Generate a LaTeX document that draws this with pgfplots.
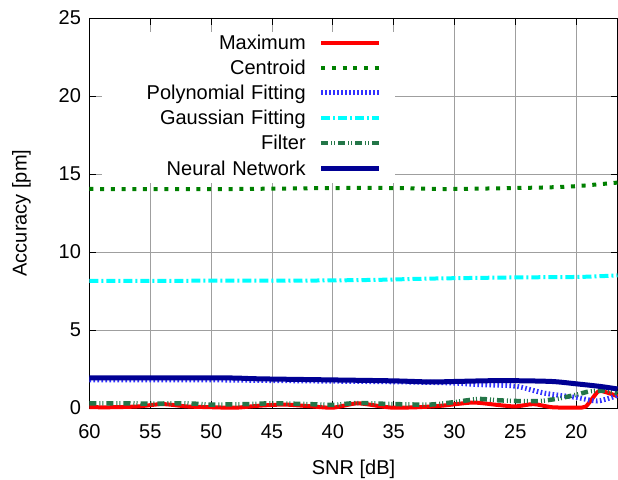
\documentclass[border=0pt]{standalone}
\usepackage{fontspec}
\setmainfont{Liberation Sans}
\usepackage{pgfplots}
\pgfplotsset{compat=1.18}

\definecolor{cmax}{RGB}{255,0,0}
\definecolor{ccen}{RGB}{0,128,0}
\definecolor{cpoly}{RGB}{50,50,255}
\definecolor{cgau}{RGB}{0,255,255}
\definecolor{cfil}{RGB}{36,118,72}
\definecolor{cnn}{RGB}{0,0,148}

\begin{document}
\begin{tikzpicture}
\begin{axis}[
    at={(0pt,0pt)}, anchor=south west,
    scale only axis, width=528pt, height=390pt,
    font=\fontsize{20}{24}\selectfont,
    x dir=reverse,
    xmin=16.6, xmax=60, ymin=0, ymax=25,
    xtick={20,25,...,60}, ytick={0,5,...,25},
    /pgf/number format/assume math mode=true,
    grid=major,
    major grid style={gray!75, line width=0.8pt},
    tick align=inside, xtick pos=both, ytick pos=both,
    major tick length=7pt,
    every tick/.style={black, line width=0.8pt},
    axis line style={line width=0.8pt},
    xticklabel style={yshift=-13pt},
    yticklabel style={xshift=-5pt},
    clip=false,
    xlabel={SNR [dB]},
    ylabel={Accuracy [pm]},
    xlabel style={at={(axis description cs:0.5,-0.158)}, anchor=center},
    ylabel style={at={(axis description cs:-0.129,0.5)}, anchor=center},
    legend plot pos=right,
    legend cell align=right,
    legend image code/.code={
        \path (0pt,0pt) (74pt,0pt);
        \draw[#1] (3pt,2pt) -- (61pt,2pt);
    },
    legend style={
        at={(axis description cs:0.0227,0.964)}, anchor=north west,
        draw=none, fill=white, inner sep=0pt,
        row sep=0pt, column sep=7pt,
        font=\fontsize{20}{24}\selectfont,
        nodes={text width=201pt, align=right, inner xsep=3pt, inner ysep=3.3pt,
               text height=14pt, text depth=4.5pt},
    },
]

% Maximum
\addplot[cmax, line width=4pt, smooth, tension=0.4] coordinates {
    (60,0.05) (58,0.05) (56,0.1) (54,0.25) (52,0.1) (50,0.05) (48,0.02)
    (46,0.15) (44,0.22) (42,0.12) (40,0.02) (38,0.3) (36,0.1) (35,0.02)
    (33,0.05) (31,0.15) (28.5,0.35) (26.5,0.2) (25,0.1) (23.5,0.25)
    (22,0.05) (20,0.02) (19.2,0.1) (18.2,1.05) (17.5,1.0) (16.6,0.75)
};
\addlegendentry{Maximum}

% Centroid
\addplot[ccen, line width=4pt, dash pattern=on 4pt off 6.7pt, smooth] coordinates {
    (60,14.04) (55,14.03) (50,14.03) (45,14.06) (40,14.1) (35,14.1)
    (32,14.05) (30,14.04) (25,14.1) (22,14.15) (20,14.22) (18,14.35) (16.6,14.45)
};
\addlegendentry{Centroid}

% Polynomial Fitting
\addplot[cpoly, line width=5pt, dash pattern=on 1.6pt off 2.4pt, smooth] coordinates {
    (60,1.8) (55,1.8) (50,1.8) (47,1.78) (45,1.76) (40,1.72) (35,1.68)
    (32,1.64) (30,1.6) (28,1.5) (25,1.4) (22.6,0.95) (20,0.68) (18.3,0.45)
    (17,0.7) (16.6,0.83)
};
\addlegendentry{Polynomial Fitting}

% Gaussian Fitting
\addplot[cgau, line width=4pt, dash pattern=on 9pt off 3pt on 2pt off 3pt, smooth] coordinates {
    (60,8.15) (55,8.15) (50,8.16) (45,8.16) (40,8.18) (36,8.22) (33,8.28)
    (30,8.32) (25,8.37) (20,8.4) (18,8.45) (16.6,8.5)
};
\addlegendentry{Gaussian Fitting}

% Filter
\addplot[cfil, line width=4.5pt, dash pattern=on 7pt off 3pt on 1pt off 2pt on 1pt off 3pt, smooth, tension=0.4] coordinates {
    (60,0.3) (57,0.3) (55,0.28) (52,0.3) (50,0.22) (47,0.25) (45,0.3)
    (42,0.25) (40,0.2) (38,0.32) (35,0.25) (32,0.22) (30,0.38) (28,0.58)
    (26.5,0.5) (25,0.45) (23,0.45) (21.5,0.6) (20,0.85) (19,1.05) (18,1.12)
    (17,1.02) (16.6,0.95)
};
\addlegendentry{Filter}

% Neural Network
\addplot[cnn, line width=5pt, smooth] coordinates {
    (60,1.93) (55,1.93) (50,1.93) (48,1.92) (46,1.87) (40,1.8) (35,1.74)
    (32,1.67) (30,1.7) (27,1.75) (25,1.75) (22,1.7) (20,1.55) (18,1.38) (16.6,1.22)
};
\addlegendentry{Neural Network}

\end{axis}
\pgfresetboundingbox
\path (-89.5pt,-71pt) rectangle (528.5pt,408pt);
\end{tikzpicture}
\end{document}
